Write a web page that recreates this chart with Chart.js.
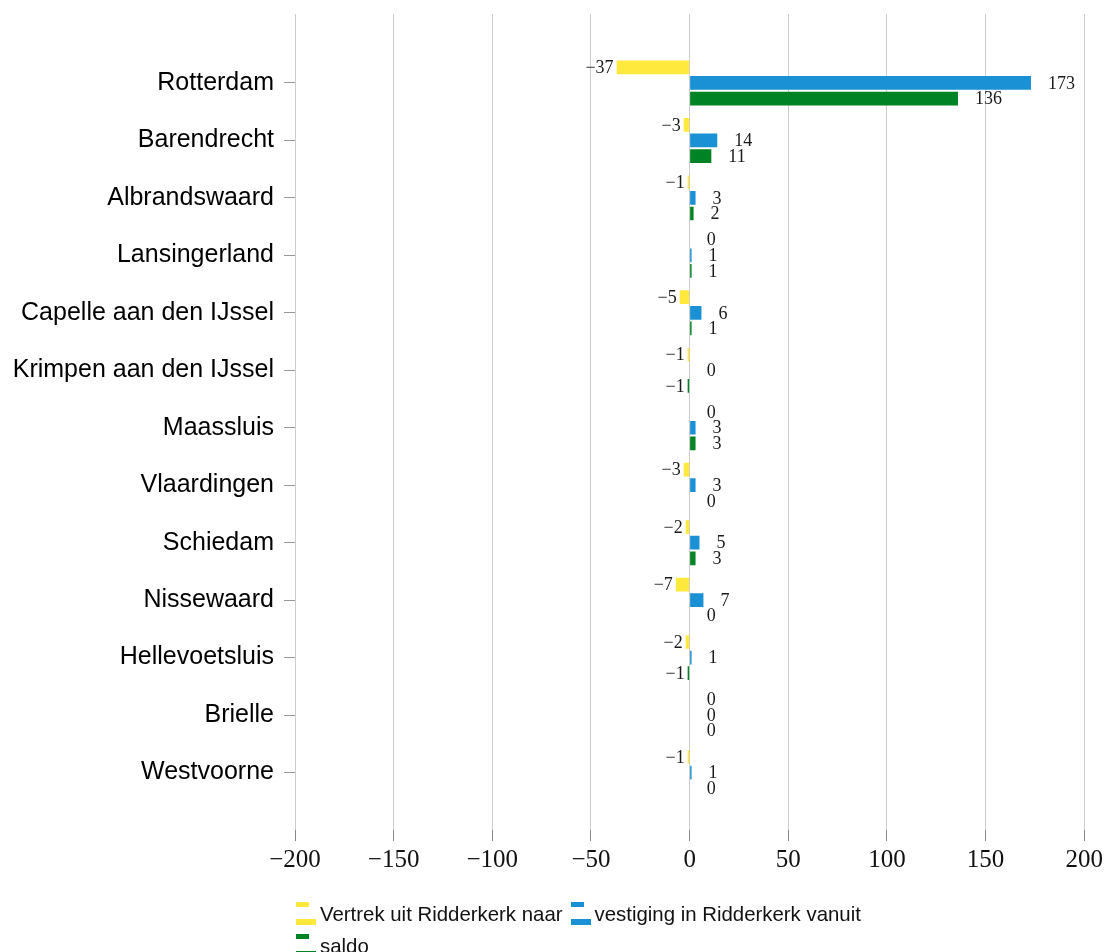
<!DOCTYPE html>
<html>
<head>
<meta charset="utf-8">
<script src="https://cdn.jsdelivr.net/npm/chart.js@4.4.1/dist/chart.umd.min.js"></script>
<style>
  html, body { margin: 0; padding: 0; background: #fff; overflow: hidden; }
  #wrap { position: relative; width: 1107px; height: 952px; }
  #legend {
    position: absolute; left: 294px; top: 898px; width: 600px;
    display: flex; flex-wrap: wrap;
    font: 20.4px "Liberation Sans", Arial, sans-serif; color: #111;
    line-height: 32px;
  }
  .item { display: flex; align-items: center; margin-right: 6px; white-space: nowrap; }
  .icon { position: relative; width: 21px; height: 24px; margin-right: 5px; }
  .icon span { position: absolute; left: 2px; }
  .icon .top { top: 0; width: 13px; height: 5px; }
  .icon .bot { top: 17px; width: 20px; height: 6px; }
</style>
</head>
<body>
<div id="wrap">
  <canvas id="chart"></canvas>
  <div id="legend"></div>
</div>
<script>
// gemeenten (categories)
const cities = ['Rotterdam', 'Barendrecht', 'Albrandswaard', 'Lansingerland',
  'Capelle aan den IJssel', 'Krimpen aan den IJssel', 'Maassluis', 'Vlaardingen',
  'Schiedam', 'Nissewaard', 'Hellevoetsluis', 'Brielle', 'Westvoorne'];

// series values
const vertrek   = [-37, -3, -1, 0, -5, -1, 0, -3, -2, -7, -2, 0, -1];
const vestiging = [173, 14, 3, 1, 6, 0, 3, 3, 5, 7, 1, 0, 1];
const saldo     = [136, 11, 2, 1, 1, -1, 3, 0, 3, 0, -1, 0, 0];

const seriesNames = ['Vertrek uit Ridderkerk naar', 'vestiging in Ridderkerk vanuit', 'saldo'];
const seriesColors = ['#FFE93C', '#1B91D5', '#008325'];

// x axis ticks
const xTicks = [-200, -150, -100, -50, 0, 50, 100, 150, 200];

const fmt = v => v < 0 ? '\u2212' + Math.abs(v) : String(v);

const toPoints = arr => arr.map((v, i) => ({ x: v, y: i }));

// value labels next to each bar
const barLabels = {
    id: 'barLabels',
    afterDatasetsDraw(chart) {
        const ctx = chart.ctx;
        ctx.save();
        ctx.font = '18px "Liberation Serif", serif';
        ctx.fillStyle = '#1a1a1a';
        ctx.textBaseline = 'middle';
        chart.data.datasets.forEach((ds, di) => {
            chart.getDatasetMeta(di).data.forEach((bar, i) => {
                const v = ds.data[i].x;
                if (v < 0) {
                    ctx.textAlign = 'right';
                    ctx.fillText(fmt(v), bar.x - 3, bar.y + 1);
                } else {
                    ctx.textAlign = 'left';
                    ctx.fillText(fmt(v), bar.x + 17, bar.y + 1);
                }
            });
        });
        ctx.restore();
    }
};

const datasets = [vertrek, vestiging, saldo].map((arr, k) => ({
    label: seriesNames[k],
    data: toPoints(arr),
    backgroundColor: seriesColors[k],
    borderWidth: 0,
    categoryPercentage: 0.815,
    barPercentage: 0.88
}));

new Chart(document.getElementById('chart'), {
    type: 'bar',
    data: { datasets },
    plugins: [barLabels],
    options: {
        indexAxis: 'y',
        responsive: true,
        maintainAspectRatio: false,
        animation: false,
        layout: { padding: { top: 14, right: 21, bottom: 72, left: 0 } },
        plugins: {
            legend: { display: false },
            tooltip: { enabled: false }
        },
        scales: {
            x: {
                type: 'linear',
                min: -200,
                max: 200,
                afterBuildTicks: scale => { scale.ticks = xTicks.map(v => ({ value: v })); },
                afterFit: scale => { scale.height = 50; },
                grid: { color: '#cccccc', tickColor: '#888888', tickLength: 11, lineWidth: 1 },
                border: { display: false },
                ticks: {
                    padding: 4,
                    color: '#111',
                    font: { family: '"Liberation Serif", serif', size: 25 },
                    callback: v => fmt(v)
                }
            },
            y: {
                type: 'linear',
                reverse: true,
                offset: false,
                min: -1.2,
                max: 13.0,
                afterBuildTicks: scale => { scale.ticks = cities.map((c, i) => ({ value: i })); },
                afterFit: scale => {
                    scale.width = 295;
                    scale.paddingTop = 0;
                    scale.paddingBottom = 0;
                },
                grid: { offset: false, drawOnChartArea: false, color: '#999999', tickLength: 11 },
                border: { display: false },
                ticks: {
                    autoSkip: false,
                    padding: 10,
                    color: '#000',
                    font: { family: '"Liberation Sans", Arial, sans-serif', size: 25 },
                    callback: v => cities[v] ?? ''
                }
            }
        }
    }
});

// legend
const legend = document.getElementById('legend');
seriesNames.forEach((name, k) => {
    const item = document.createElement('div');
    item.className = 'item';
    item.innerHTML = '<div class="icon"><span class="top"></span><span class="bot"></span></div>';
    item.querySelectorAll('span').forEach(s => { s.style.background = seriesColors[k]; });
    const txt = document.createElement('span');
    txt.textContent = name;
    item.appendChild(txt);
    legend.appendChild(item);
});
</script>
</body>
</html>
